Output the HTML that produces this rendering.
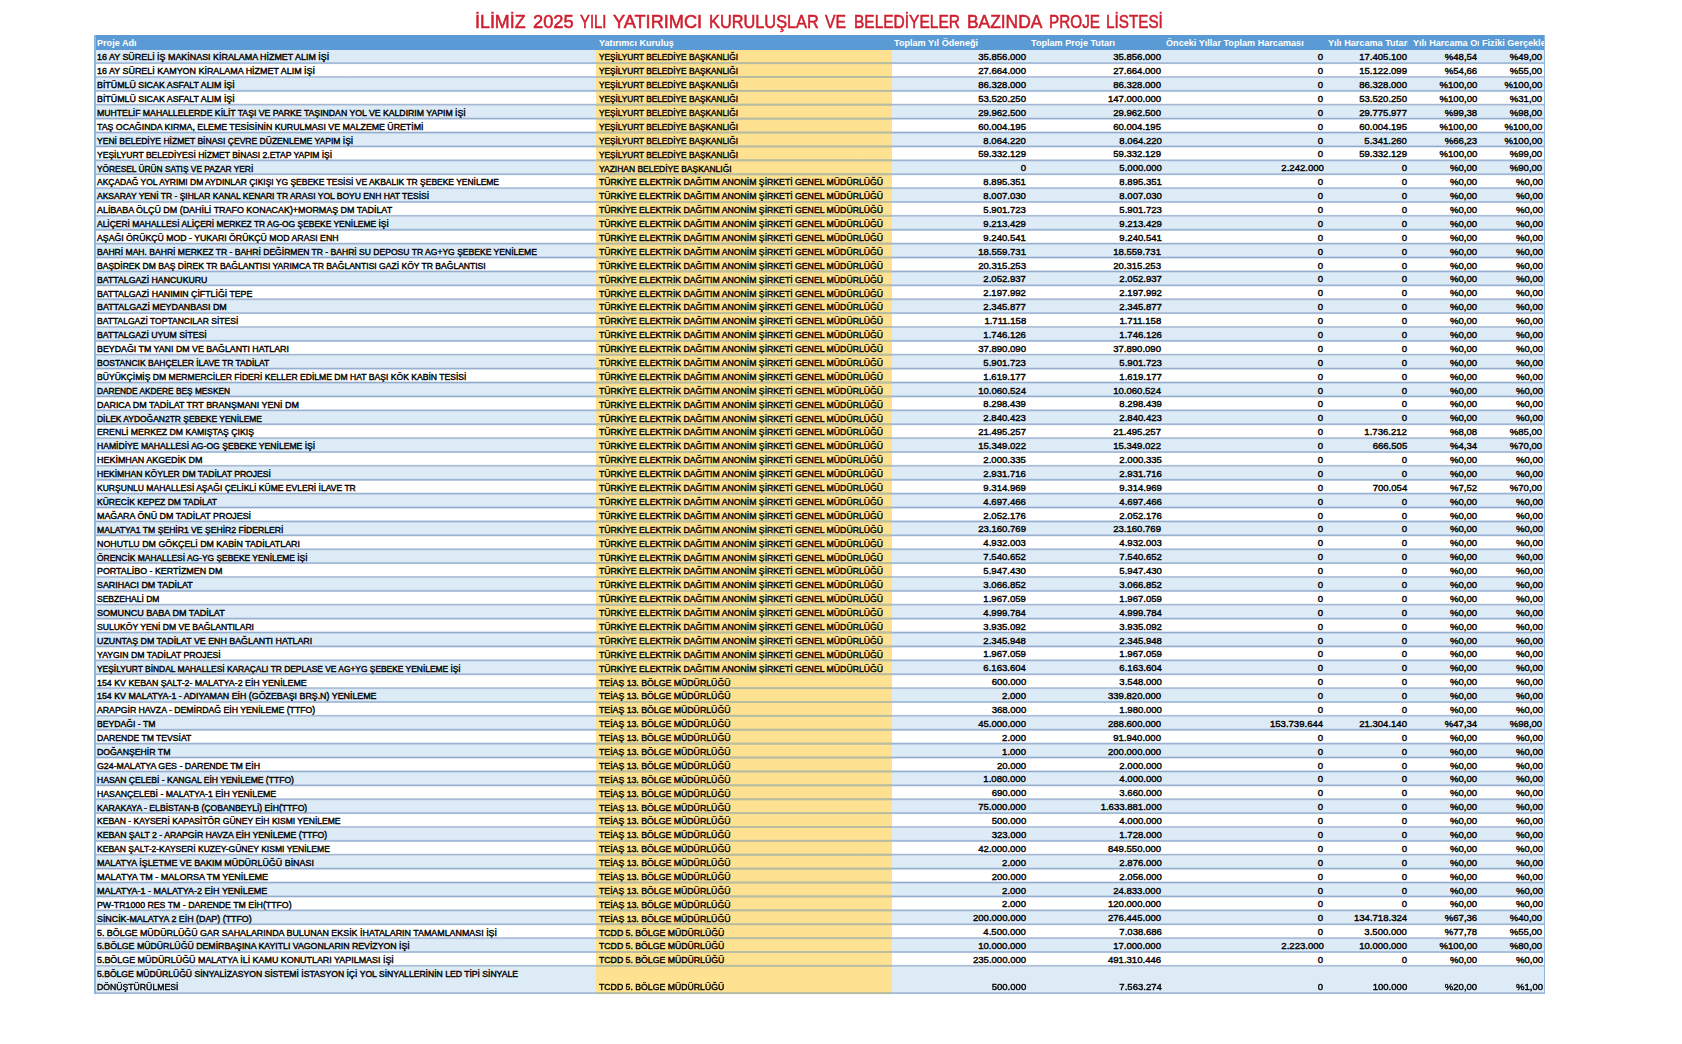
<!DOCTYPE html>
<html lang="tr"><head><meta charset="utf-8"><title>İlimiz 2025 Yılı Yatırımcı Kuruluşlar ve Belediyeler Bazında Proje Listesi</title>
<style>
html,body{margin:0;padding:0;background:#fff;}
body{width:1682px;height:1044px;position:relative;overflow:hidden;font-family:"Liberation Sans",sans-serif;color:#000;}
#ttl{position:absolute;left:0;top:11.1px;width:1682px;height:22px;font-size:18.4px;line-height:22px;color:#cf1f2e;white-space:nowrap;-webkit-text-stroke:0.55px #cf1f2e;filter:blur(0.6px);}
#ttl span{position:absolute;top:0;transform-origin:0 0;}
#tb{position:absolute;left:94.0px;top:34.8px;width:1451.0px;height:959.1px;background:#fff;filter:blur(0.6px);}
.hd{position:absolute;left:0;top:0;width:100%;height:15.200000000000003px;background:#5b9bd5;}
.hd div{position:absolute;top:0;height:100%;overflow:hidden;}
.hd span{position:absolute;left:0;top:1.6px;line-height:15.200000000000003px;font-size:9.2px;font-weight:bold;color:#fff;white-space:nowrap;transform-origin:0 50%;transform:scaleX(0.99);}
.r{position:absolute;left:0;width:100%;height:13.889px;font-size:8.9px;line-height:15.8px;font-weight:normal;-webkit-text-stroke:0.4px #000;}
.r.o{background:#ddebf7;}
.r i{position:absolute;left:501.5px;width:296.5px;top:0;bottom:0;background:#fee291;}
.ln{position:absolute;left:0;top:16.1px;width:100%;height:916.674px;background:repeating-linear-gradient(to bottom,rgba(144,169,204,0) 0,rgba(144,169,204,0) 10.589px,#90a9cc 12.089px,rgba(144,169,204,0) 13.589px,rgba(144,169,204,0) 13.889px);pointer-events:none;}
.ln.y{left:501.5px;width:296.5px;background:repeating-linear-gradient(to bottom,rgba(189,191,149,0) 0,rgba(189,191,149,0) 10.589px,#bdbf95 12.089px,rgba(189,191,149,0) 13.589px,rgba(189,191,149,0) 13.889px);}
.ln.last{top:auto;bottom:-0.8999999999999999px;height:13.889px;}
.r span{position:absolute;top:0.5px;white-space:nowrap;}
.a{left:2.799999999999997px;transform-origin:0 50%;}
.b{left:504.9px;transform-origin:0 50%;}
.r span.n{font-size:9.2px;top:0.2px;}
.r.l span.n{top:13.288999999999998px;}
.n{transform-origin:100% 50%;transform:scaleX(1.04);text-align:right;}
.r.l{height:27.226px;}
.r.l span{top:13.588999999999999px;}
.r.l span.a1{top:0.0px;}
.edge{position:absolute;left:0;top:0;bottom:0;width:1.5px;background:#8fb4de;}
.edge.rt{left:auto;right:0;width:1px;}
</style></head><body>
<div id="ttl"><span style="left:475.4px;transform:scaleX(0.9707)">İLİMİZ</span> <span style="left:532.6px;transform:scaleX(0.9946)">2025</span> <span style="left:579.9px;transform:scaleX(0.8069)">YILI</span> <span style="left:612.9px;transform:scaleX(0.9873)">YATIRIMCI</span> <span style="left:709.0px;transform:scaleX(0.8878)">KURULUŞLAR</span> <span style="left:825.0px;transform:scaleX(0.8555)">VE</span> <span style="left:854.4px;transform:scaleX(0.8423)">BELEDİYELER</span> <span style="left:966.9px;transform:scaleX(0.9446)">BAZINDA</span> <span style="left:1048.8px;transform:scaleX(0.8316)">PROJE</span> <span style="left:1106.4px;transform:scaleX(0.8294)">LİSTESİ</span></div>
<div id="tb">
<div class="hd"><div style="left:2.8px;width:498.2px"><span>Proje Adı</span></div><div style="left:505.4px;width:292.6px"><span>Yatırımcı Kuruluş</span></div><div style="left:800.4px;width:134.6px"><span>Toplam Yıl Ödeneği</span></div><div style="left:937.3px;width:132.7px"><span>Toplam Proje Tutarı</span></div><div style="left:1072.0px;width:160.0px"><span>Önceki Yıllar Toplam Harcaması</span></div><div style="left:1234.3px;width:80.2px"><span>Yılı Harcama Tutarı</span></div><div style="left:1318.5px;width:66.0px"><span>Yılı Harcama Oranı</span></div><div style="left:1387.7px;width:63.3px"><span>Fiziki Gerçekleşme</span></div></div>
<div class="r o" style="top:15.200px"><i></i><span class="a" style="transform:scaleX(1.0038)">16 AY SÜRELİ İŞ MAKİNASI KİRALAMA HİZMET ALIM İŞİ</span><span class="b" style="transform:scaleX(0.9300)">YEŞİLYURT BELEDİYE BAŞKANLIĞI</span><span class="n" style="right:519.2px">35.856.000</span><span class="n" style="right:383.6px">35.856.000</span><span class="n" style="right:221.6px">0</span><span class="n" style="right:138.2px">17.405.100</span><span class="n" style="right:68.2px">%48,54</span><span class="n" style="right:2.4px">%49,00</span></div>
<div class="r" style="top:29.089px"><i></i><span class="a" style="transform:scaleX(1.0068)">16 AY SÜRELİ KAMYON KİRALAMA HİZMET ALIM  İŞİ</span><span class="b" style="transform:scaleX(0.9300)">YEŞİLYURT BELEDİYE BAŞKANLIĞI</span><span class="n" style="right:519.2px">27.664.000</span><span class="n" style="right:383.6px">27.664.000</span><span class="n" style="right:221.6px">0</span><span class="n" style="right:138.2px">15.122.099</span><span class="n" style="right:68.2px">%54,66</span><span class="n" style="right:2.4px">%55,00</span></div>
<div class="r o" style="top:42.978px"><i></i><span class="a" style="transform:scaleX(0.9959)">BİTÜMLÜ SICAK ASFALT ALIM İŞİ</span><span class="b" style="transform:scaleX(0.9300)">YEŞİLYURT BELEDİYE BAŞKANLIĞI</span><span class="n" style="right:519.2px">86.328.000</span><span class="n" style="right:383.6px">86.328.000</span><span class="n" style="right:221.6px">0</span><span class="n" style="right:138.2px">86.328.000</span><span class="n" style="right:68.2px">%100,00</span><span class="n" style="right:2.4px">%100,00</span></div>
<div class="r" style="top:56.867px"><i></i><span class="a" style="transform:scaleX(0.9959)">BİTÜMLÜ SICAK ASFALT ALIM İŞİ</span><span class="b" style="transform:scaleX(0.9300)">YEŞİLYURT BELEDİYE BAŞKANLIĞI</span><span class="n" style="right:519.2px">53.520.250</span><span class="n" style="right:383.6px">147.000.000</span><span class="n" style="right:221.6px">0</span><span class="n" style="right:138.2px">53.520.250</span><span class="n" style="right:68.2px">%100,00</span><span class="n" style="right:2.4px">%31,00</span></div>
<div class="r o" style="top:70.756px"><i></i><span class="a" style="transform:scaleX(0.9793)">MUHTELİF MAHALLELERDE KİLİT TAŞI VE PARKE TAŞINDAN YOL VE KALDIRIM YAPIM İŞİ</span><span class="b" style="transform:scaleX(0.9300)">YEŞİLYURT BELEDİYE BAŞKANLIĞI</span><span class="n" style="right:519.2px">29.962.500</span><span class="n" style="right:383.6px">29.962.500</span><span class="n" style="right:221.6px">0</span><span class="n" style="right:138.2px">29.775.977</span><span class="n" style="right:68.2px">%99,38</span><span class="n" style="right:2.4px">%98,00</span></div>
<div class="r" style="top:84.645px"><i></i><span class="a" style="transform:scaleX(0.9889)">TAŞ OCAĞINDA KIRMA, ELEME TESİSİNİN KURULMASI VE MALZEME ÜRETİMİ</span><span class="b" style="transform:scaleX(0.9300)">YEŞİLYURT BELEDİYE BAŞKANLIĞI</span><span class="n" style="right:519.2px">60.004.195</span><span class="n" style="right:383.6px">60.004.195</span><span class="n" style="right:221.6px">0</span><span class="n" style="right:138.2px">60.004.195</span><span class="n" style="right:68.2px">%100,00</span><span class="n" style="right:2.4px">%100,00</span></div>
<div class="r o" style="top:98.534px"><i></i><span class="a" style="transform:scaleX(0.9620)">YENİ BELEDİYE HİZMET BİNASI ÇEVRE DÜZENLEME YAPIM İŞİ</span><span class="b" style="transform:scaleX(0.9300)">YEŞİLYURT BELEDİYE BAŞKANLIĞI</span><span class="n" style="right:519.2px">8.064.220</span><span class="n" style="right:383.6px">8.064.220</span><span class="n" style="right:221.6px">0</span><span class="n" style="right:138.2px">5.341.260</span><span class="n" style="right:68.2px">%66,23</span><span class="n" style="right:2.4px">%100,00</span></div>
<div class="r" style="top:112.423px"><i></i><span class="a" style="transform:scaleX(0.9627)">YEŞİLYURT BELEDİYESİ HİZMET BİNASI 2.ETAP YAPIM İŞİ</span><span class="b" style="transform:scaleX(0.9300)">YEŞİLYURT BELEDİYE BAŞKANLIĞI</span><span class="n" style="right:519.2px">59.332.129</span><span class="n" style="right:383.6px">59.332.129</span><span class="n" style="right:221.6px">0</span><span class="n" style="right:138.2px">59.332.129</span><span class="n" style="right:68.2px">%100,00</span><span class="n" style="right:2.4px">%99,00</span></div>
<div class="r o" style="top:126.312px"><i></i><span class="a" style="transform:scaleX(0.9417)">YÖRESEL ÜRÜN SATIŞ VE PAZAR YERİ</span><span class="b" style="transform:scaleX(0.9544)">YAZIHAN BELEDİYE BAŞKANLIĞI</span><span class="n" style="right:519.2px">0</span><span class="n" style="right:383.6px">5.000.000</span><span class="n" style="right:221.6px">2.242.000</span><span class="n" style="right:138.2px">0</span><span class="n" style="right:68.2px">%0,00</span><span class="n" style="right:2.4px">%90,00</span></div>
<div class="r" style="top:140.201px"><i></i><span class="a" style="transform:scaleX(0.9544)">AKÇADAĞ YOL AYRIMI DM AYDINLAR ÇIKIŞI YG ŞEBEKE TESİSİ VE AKBALIK TR ŞEBEKE YENİLEME</span><span class="b" style="transform:scaleX(0.9792)">TÜRKİYE ELEKTRİK DAĞITIM ANONİM ŞİRKETİ GENEL MÜDÜRLÜĞÜ</span><span class="n" style="right:519.2px">8.895.351</span><span class="n" style="right:383.6px">8.895.351</span><span class="n" style="right:221.6px">0</span><span class="n" style="right:138.2px">0</span><span class="n" style="right:68.2px">%0,00</span><span class="n" style="right:2.4px">%0,00</span></div>
<div class="r o" style="top:154.090px"><i></i><span class="a" style="transform:scaleX(0.9596)">AKSARAY YENİ TR - ŞIHLAR KANAL KENARI TR ARASI YOL BOYU ENH HAT TESİSİ</span><span class="b" style="transform:scaleX(0.9792)">TÜRKİYE ELEKTRİK DAĞITIM ANONİM ŞİRKETİ GENEL MÜDÜRLÜĞÜ</span><span class="n" style="right:519.2px">8.007.030</span><span class="n" style="right:383.6px">8.007.030</span><span class="n" style="right:221.6px">0</span><span class="n" style="right:138.2px">0</span><span class="n" style="right:68.2px">%0,00</span><span class="n" style="right:2.4px">%0,00</span></div>
<div class="r" style="top:167.979px"><i></i><span class="a" style="transform:scaleX(1.0037)">ALİBABA ÖLÇÜ DM (DAHİLİ TRAFO KONACAK)+MORMAŞ DM TADİLAT</span><span class="b" style="transform:scaleX(0.9792)">TÜRKİYE ELEKTRİK DAĞITIM ANONİM ŞİRKETİ GENEL MÜDÜRLÜĞÜ</span><span class="n" style="right:519.2px">5.901.723</span><span class="n" style="right:383.6px">5.901.723</span><span class="n" style="right:221.6px">0</span><span class="n" style="right:138.2px">0</span><span class="n" style="right:68.2px">%0,00</span><span class="n" style="right:2.4px">%0,00</span></div>
<div class="r o" style="top:181.868px"><i></i><span class="a" style="transform:scaleX(0.9506)">ALİÇERİ MAHALLESİ ALİÇERİ MERKEZ TR AG-OG ŞEBEKE YENİLEME İŞİ</span><span class="b" style="transform:scaleX(0.9792)">TÜRKİYE ELEKTRİK DAĞITIM ANONİM ŞİRKETİ GENEL MÜDÜRLÜĞÜ</span><span class="n" style="right:519.2px">9.213.429</span><span class="n" style="right:383.6px">9.213.429</span><span class="n" style="right:221.6px">0</span><span class="n" style="right:138.2px">0</span><span class="n" style="right:68.2px">%0,00</span><span class="n" style="right:2.4px">%0,00</span></div>
<div class="r" style="top:195.757px"><i></i><span class="a" style="transform:scaleX(0.9821)">AŞAĞI ÖRÜKÇÜ MOD - YUKARI ÖRÜKÇÜ MOD ARASI ENH</span><span class="b" style="transform:scaleX(0.9792)">TÜRKİYE ELEKTRİK DAĞITIM ANONİM ŞİRKETİ GENEL MÜDÜRLÜĞÜ</span><span class="n" style="right:519.2px">9.240.541</span><span class="n" style="right:383.6px">9.240.541</span><span class="n" style="right:221.6px">0</span><span class="n" style="right:138.2px">0</span><span class="n" style="right:68.2px">%0,00</span><span class="n" style="right:2.4px">%0,00</span></div>
<div class="r o" style="top:209.646px"><i></i><span class="a" style="transform:scaleX(0.9641)">BAHRİ MAH. BAHRİ MERKEZ TR - BAHRİ DEĞİRMEN TR - BAHRİ SU DEPOSU TR AG+YG ŞEBEKE YENİLEME</span><span class="b" style="transform:scaleX(0.9792)">TÜRKİYE ELEKTRİK DAĞITIM ANONİM ŞİRKETİ GENEL MÜDÜRLÜĞÜ</span><span class="n" style="right:519.2px">18.559.731</span><span class="n" style="right:383.6px">18.559.731</span><span class="n" style="right:221.6px">0</span><span class="n" style="right:138.2px">0</span><span class="n" style="right:68.2px">%0,00</span><span class="n" style="right:2.4px">%0,00</span></div>
<div class="r" style="top:223.535px"><i></i><span class="a" style="transform:scaleX(0.9635)">BAŞDİREK DM BAŞ DİREK TR BAĞLANTISI YARIMCA TR BAĞLANTISI GAZİ KÖY TR BAĞLANTISI</span><span class="b" style="transform:scaleX(0.9792)">TÜRKİYE ELEKTRİK DAĞITIM ANONİM ŞİRKETİ GENEL MÜDÜRLÜĞÜ</span><span class="n" style="right:519.2px">20.315.253</span><span class="n" style="right:383.6px">20.315.253</span><span class="n" style="right:221.6px">0</span><span class="n" style="right:138.2px">0</span><span class="n" style="right:68.2px">%0,00</span><span class="n" style="right:2.4px">%0,00</span></div>
<div class="r o" style="top:237.424px"><i></i><span class="a" style="transform:scaleX(0.9848)">BATTALGAZİ HANCUKURU</span><span class="b" style="transform:scaleX(0.9792)">TÜRKİYE ELEKTRİK DAĞITIM ANONİM ŞİRKETİ GENEL MÜDÜRLÜĞÜ</span><span class="n" style="right:519.2px">2.052.937</span><span class="n" style="right:383.6px">2.052.937</span><span class="n" style="right:221.6px">0</span><span class="n" style="right:138.2px">0</span><span class="n" style="right:68.2px">%0,00</span><span class="n" style="right:2.4px">%0,00</span></div>
<div class="r" style="top:251.313px"><i></i><span class="a" style="transform:scaleX(0.9872)">BATTALGAZİ HANIMIN ÇİFTLİĞİ TEPE</span><span class="b" style="transform:scaleX(0.9792)">TÜRKİYE ELEKTRİK DAĞITIM ANONİM ŞİRKETİ GENEL MÜDÜRLÜĞÜ</span><span class="n" style="right:519.2px">2.197.992</span><span class="n" style="right:383.6px">2.197.992</span><span class="n" style="right:221.6px">0</span><span class="n" style="right:138.2px">0</span><span class="n" style="right:68.2px">%0,00</span><span class="n" style="right:2.4px">%0,00</span></div>
<div class="r o" style="top:265.202px"><i></i><span class="a" style="transform:scaleX(0.9988)">BATTALGAZİ MEYDANBASI DM</span><span class="b" style="transform:scaleX(0.9792)">TÜRKİYE ELEKTRİK DAĞITIM ANONİM ŞİRKETİ GENEL MÜDÜRLÜĞÜ</span><span class="n" style="right:519.2px">2.345.877</span><span class="n" style="right:383.6px">2.345.877</span><span class="n" style="right:221.6px">0</span><span class="n" style="right:138.2px">0</span><span class="n" style="right:68.2px">%0,00</span><span class="n" style="right:2.4px">%0,00</span></div>
<div class="r" style="top:279.091px"><i></i><span class="a" style="transform:scaleX(0.9604)">BATTALGAZİ TOPTANCILAR SİTESİ</span><span class="b" style="transform:scaleX(0.9792)">TÜRKİYE ELEKTRİK DAĞITIM ANONİM ŞİRKETİ GENEL MÜDÜRLÜĞÜ</span><span class="n" style="right:519.2px">1.711.158</span><span class="n" style="right:383.6px">1.711.158</span><span class="n" style="right:221.6px">0</span><span class="n" style="right:138.2px">0</span><span class="n" style="right:68.2px">%0,00</span><span class="n" style="right:2.4px">%0,00</span></div>
<div class="r o" style="top:292.980px"><i></i><span class="a" style="transform:scaleX(0.9785)">BATTALGAZİ UYUM SİTESİ</span><span class="b" style="transform:scaleX(0.9792)">TÜRKİYE ELEKTRİK DAĞITIM ANONİM ŞİRKETİ GENEL MÜDÜRLÜĞÜ</span><span class="n" style="right:519.2px">1.746.126</span><span class="n" style="right:383.6px">1.746.126</span><span class="n" style="right:221.6px">0</span><span class="n" style="right:138.2px">0</span><span class="n" style="right:68.2px">%0,00</span><span class="n" style="right:2.4px">%0,00</span></div>
<div class="r" style="top:306.869px"><i></i><span class="a" style="transform:scaleX(0.9935)">BEYDAĞI TM YANI DM VE BAĞLANTI HATLARI</span><span class="b" style="transform:scaleX(0.9792)">TÜRKİYE ELEKTRİK DAĞITIM ANONİM ŞİRKETİ GENEL MÜDÜRLÜĞÜ</span><span class="n" style="right:519.2px">37.890.090</span><span class="n" style="right:383.6px">37.890.090</span><span class="n" style="right:221.6px">0</span><span class="n" style="right:138.2px">0</span><span class="n" style="right:68.2px">%0,00</span><span class="n" style="right:2.4px">%0,00</span></div>
<div class="r o" style="top:320.758px"><i></i><span class="a" style="transform:scaleX(0.9598)">BOSTANCIK BAHÇELER İLAVE TR TADİLAT</span><span class="b" style="transform:scaleX(0.9792)">TÜRKİYE ELEKTRİK DAĞITIM ANONİM ŞİRKETİ GENEL MÜDÜRLÜĞÜ</span><span class="n" style="right:519.2px">5.901.723</span><span class="n" style="right:383.6px">5.901.723</span><span class="n" style="right:221.6px">0</span><span class="n" style="right:138.2px">0</span><span class="n" style="right:68.2px">%0,00</span><span class="n" style="right:2.4px">%0,00</span></div>
<div class="r" style="top:334.647px"><i></i><span class="a" style="transform:scaleX(0.9665)">BÜYÜKÇİMİŞ DM MERMERCİLER FİDERİ KELLER EDİLME DM HAT BAŞI KÖK KABİN TESİSİ</span><span class="b" style="transform:scaleX(0.9792)">TÜRKİYE ELEKTRİK DAĞITIM ANONİM ŞİRKETİ GENEL MÜDÜRLÜĞÜ</span><span class="n" style="right:519.2px">1.619.177</span><span class="n" style="right:383.6px">1.619.177</span><span class="n" style="right:221.6px">0</span><span class="n" style="right:138.2px">0</span><span class="n" style="right:68.2px">%0,00</span><span class="n" style="right:2.4px">%0,00</span></div>
<div class="r o" style="top:348.536px"><i></i><span class="a" style="transform:scaleX(0.9363)">DARENDE AKDERE BEŞ MESKEN</span><span class="b" style="transform:scaleX(0.9792)">TÜRKİYE ELEKTRİK DAĞITIM ANONİM ŞİRKETİ GENEL MÜDÜRLÜĞÜ</span><span class="n" style="right:519.2px">10.060.524</span><span class="n" style="right:383.6px">10.060.524</span><span class="n" style="right:221.6px">0</span><span class="n" style="right:138.2px">0</span><span class="n" style="right:68.2px">%0,00</span><span class="n" style="right:2.4px">%0,00</span></div>
<div class="r" style="top:362.425px"><i></i><span class="a" style="transform:scaleX(1.0075)">DARICA DM TADİLAT TRT BRANŞMANI YENİ DM</span><span class="b" style="transform:scaleX(0.9792)">TÜRKİYE ELEKTRİK DAĞITIM ANONİM ŞİRKETİ GENEL MÜDÜRLÜĞÜ</span><span class="n" style="right:519.2px">8.298.439</span><span class="n" style="right:383.6px">8.298.439</span><span class="n" style="right:221.6px">0</span><span class="n" style="right:138.2px">0</span><span class="n" style="right:68.2px">%0,00</span><span class="n" style="right:2.4px">%0,00</span></div>
<div class="r o" style="top:376.314px"><i></i><span class="a" style="transform:scaleX(0.9521)">DİLEK AYDOĞAN2TR ŞEBEKE YENİLEME</span><span class="b" style="transform:scaleX(0.9792)">TÜRKİYE ELEKTRİK DAĞITIM ANONİM ŞİRKETİ GENEL MÜDÜRLÜĞÜ</span><span class="n" style="right:519.2px">2.840.423</span><span class="n" style="right:383.6px">2.840.423</span><span class="n" style="right:221.6px">0</span><span class="n" style="right:138.2px">0</span><span class="n" style="right:68.2px">%0,00</span><span class="n" style="right:2.4px">%0,00</span></div>
<div class="r" style="top:390.203px"><i></i><span class="a" style="transform:scaleX(0.9806)">ERENLİ MERKEZ DM  KAMIŞTAŞ ÇIKIŞ</span><span class="b" style="transform:scaleX(0.9792)">TÜRKİYE ELEKTRİK DAĞITIM ANONİM ŞİRKETİ GENEL MÜDÜRLÜĞÜ</span><span class="n" style="right:519.2px">21.495.257</span><span class="n" style="right:383.6px">21.495.257</span><span class="n" style="right:221.6px">0</span><span class="n" style="right:138.2px">1.736.212</span><span class="n" style="right:68.2px">%8,08</span><span class="n" style="right:2.4px">%85,00</span></div>
<div class="r o" style="top:404.092px"><i></i><span class="a" style="transform:scaleX(0.9688)">HAMİDİYE MAHALLESİ AG-OG ŞEBEKE YENİLEME İŞİ</span><span class="b" style="transform:scaleX(0.9792)">TÜRKİYE ELEKTRİK DAĞITIM ANONİM ŞİRKETİ GENEL MÜDÜRLÜĞÜ</span><span class="n" style="right:519.2px">15.349.022</span><span class="n" style="right:383.6px">15.349.022</span><span class="n" style="right:221.6px">0</span><span class="n" style="right:138.2px">666.505</span><span class="n" style="right:68.2px">%4,34</span><span class="n" style="right:2.4px">%70,00</span></div>
<div class="r" style="top:417.981px"><i></i><span class="a" style="transform:scaleX(1.0082)">HEKİMHAN AKGEDİK DM</span><span class="b" style="transform:scaleX(0.9792)">TÜRKİYE ELEKTRİK DAĞITIM ANONİM ŞİRKETİ GENEL MÜDÜRLÜĞÜ</span><span class="n" style="right:519.2px">2.000.335</span><span class="n" style="right:383.6px">2.000.335</span><span class="n" style="right:221.6px">0</span><span class="n" style="right:138.2px">0</span><span class="n" style="right:68.2px">%0,00</span><span class="n" style="right:2.4px">%0,00</span></div>
<div class="r o" style="top:431.870px"><i></i><span class="a" style="transform:scaleX(0.9702)">HEKİMHAN KÖYLER DM TADİLAT PROJESİ</span><span class="b" style="transform:scaleX(0.9792)">TÜRKİYE ELEKTRİK DAĞITIM ANONİM ŞİRKETİ GENEL MÜDÜRLÜĞÜ</span><span class="n" style="right:519.2px">2.931.716</span><span class="n" style="right:383.6px">2.931.716</span><span class="n" style="right:221.6px">0</span><span class="n" style="right:138.2px">0</span><span class="n" style="right:68.2px">%0,00</span><span class="n" style="right:2.4px">%0,00</span></div>
<div class="r" style="top:445.759px"><i></i><span class="a" style="transform:scaleX(0.9621)">KURŞUNLU MAHALLESİ AŞAĞI ÇELİKLİ KÜME EVLERİ İLAVE TR</span><span class="b" style="transform:scaleX(0.9792)">TÜRKİYE ELEKTRİK DAĞITIM ANONİM ŞİRKETİ GENEL MÜDÜRLÜĞÜ</span><span class="n" style="right:519.2px">9.314.969</span><span class="n" style="right:383.6px">9.314.969</span><span class="n" style="right:221.6px">0</span><span class="n" style="right:138.2px">700.054</span><span class="n" style="right:68.2px">%7,52</span><span class="n" style="right:2.4px">%70,00</span></div>
<div class="r o" style="top:459.648px"><i></i><span class="a" style="transform:scaleX(0.9618)">KÜRECİK KEPEZ DM TADİLAT</span><span class="b" style="transform:scaleX(0.9792)">TÜRKİYE ELEKTRİK DAĞITIM ANONİM ŞİRKETİ GENEL MÜDÜRLÜĞÜ</span><span class="n" style="right:519.2px">4.697.466</span><span class="n" style="right:383.6px">4.697.466</span><span class="n" style="right:221.6px">0</span><span class="n" style="right:138.2px">0</span><span class="n" style="right:68.2px">%0,00</span><span class="n" style="right:2.4px">%0,00</span></div>
<div class="r" style="top:473.537px"><i></i><span class="a" style="transform:scaleX(0.9988)">MAĞARA ÖNÜ DM TADİLAT PROJESİ</span><span class="b" style="transform:scaleX(0.9792)">TÜRKİYE ELEKTRİK DAĞITIM ANONİM ŞİRKETİ GENEL MÜDÜRLÜĞÜ</span><span class="n" style="right:519.2px">2.052.176</span><span class="n" style="right:383.6px">2.052.176</span><span class="n" style="right:221.6px">0</span><span class="n" style="right:138.2px">0</span><span class="n" style="right:68.2px">%0,00</span><span class="n" style="right:2.4px">%0,00</span></div>
<div class="r o" style="top:487.426px"><i></i><span class="a" style="transform:scaleX(0.9686)">MALATYA1 TM ŞEHİR1 VE ŞEHİR2 FİDERLERİ</span><span class="b" style="transform:scaleX(0.9792)">TÜRKİYE ELEKTRİK DAĞITIM ANONİM ŞİRKETİ GENEL MÜDÜRLÜĞÜ</span><span class="n" style="right:519.2px">23.160.769</span><span class="n" style="right:383.6px">23.160.769</span><span class="n" style="right:221.6px">0</span><span class="n" style="right:138.2px">0</span><span class="n" style="right:68.2px">%0,00</span><span class="n" style="right:2.4px">%0,00</span></div>
<div class="r" style="top:501.315px"><i></i><span class="a" style="transform:scaleX(0.9962)">NOHUTLU DM GÖKÇELİ DM KABİN TADİLATLARI</span><span class="b" style="transform:scaleX(0.9792)">TÜRKİYE ELEKTRİK DAĞITIM ANONİM ŞİRKETİ GENEL MÜDÜRLÜĞÜ</span><span class="n" style="right:519.2px">4.932.003</span><span class="n" style="right:383.6px">4.932.003</span><span class="n" style="right:221.6px">0</span><span class="n" style="right:138.2px">0</span><span class="n" style="right:68.2px">%0,00</span><span class="n" style="right:2.4px">%0,00</span></div>
<div class="r o" style="top:515.204px"><i></i><span class="a" style="transform:scaleX(0.9495)">ÖRENCİK MAHALLESİ AG-YG ŞEBEKE YENİLEME İŞİ</span><span class="b" style="transform:scaleX(0.9792)">TÜRKİYE ELEKTRİK DAĞITIM ANONİM ŞİRKETİ GENEL MÜDÜRLÜĞÜ</span><span class="n" style="right:519.2px">7.540.652</span><span class="n" style="right:383.6px">7.540.652</span><span class="n" style="right:221.6px">0</span><span class="n" style="right:138.2px">0</span><span class="n" style="right:68.2px">%0,00</span><span class="n" style="right:2.4px">%0,00</span></div>
<div class="r" style="top:529.093px"><i></i><span class="a" style="transform:scaleX(1.0012)">PORTALİBO - KERTİZMEN DM</span><span class="b" style="transform:scaleX(0.9792)">TÜRKİYE ELEKTRİK DAĞITIM ANONİM ŞİRKETİ GENEL MÜDÜRLÜĞÜ</span><span class="n" style="right:519.2px">5.947.430</span><span class="n" style="right:383.6px">5.947.430</span><span class="n" style="right:221.6px">0</span><span class="n" style="right:138.2px">0</span><span class="n" style="right:68.2px">%0,00</span><span class="n" style="right:2.4px">%0,00</span></div>
<div class="r o" style="top:542.982px"><i></i><span class="a" style="transform:scaleX(1.0003)">SARIHACI DM TADİLAT</span><span class="b" style="transform:scaleX(0.9792)">TÜRKİYE ELEKTRİK DAĞITIM ANONİM ŞİRKETİ GENEL MÜDÜRLÜĞÜ</span><span class="n" style="right:519.2px">3.066.852</span><span class="n" style="right:383.6px">3.066.852</span><span class="n" style="right:221.6px">0</span><span class="n" style="right:138.2px">0</span><span class="n" style="right:68.2px">%0,00</span><span class="n" style="right:2.4px">%0,00</span></div>
<div class="r" style="top:556.871px"><i></i><span class="a" style="transform:scaleX(0.9584)">SEBZEHALİ DM</span><span class="b" style="transform:scaleX(0.9792)">TÜRKİYE ELEKTRİK DAĞITIM ANONİM ŞİRKETİ GENEL MÜDÜRLÜĞÜ</span><span class="n" style="right:519.2px">1.967.059</span><span class="n" style="right:383.6px">1.967.059</span><span class="n" style="right:221.6px">0</span><span class="n" style="right:138.2px">0</span><span class="n" style="right:68.2px">%0,00</span><span class="n" style="right:2.4px">%0,00</span></div>
<div class="r o" style="top:570.760px"><i></i><span class="a" style="transform:scaleX(1.0194)">SOMUNCU BABA DM TADİLAT</span><span class="b" style="transform:scaleX(0.9792)">TÜRKİYE ELEKTRİK DAĞITIM ANONİM ŞİRKETİ GENEL MÜDÜRLÜĞÜ</span><span class="n" style="right:519.2px">4.999.784</span><span class="n" style="right:383.6px">4.999.784</span><span class="n" style="right:221.6px">0</span><span class="n" style="right:138.2px">0</span><span class="n" style="right:68.2px">%0,00</span><span class="n" style="right:2.4px">%0,00</span></div>
<div class="r" style="top:584.649px"><i></i><span class="a" style="transform:scaleX(0.9694)">SULUKÖY YENİ DM VE BAĞLANTILARI</span><span class="b" style="transform:scaleX(0.9792)">TÜRKİYE ELEKTRİK DAĞITIM ANONİM ŞİRKETİ GENEL MÜDÜRLÜĞÜ</span><span class="n" style="right:519.2px">3.935.092</span><span class="n" style="right:383.6px">3.935.092</span><span class="n" style="right:221.6px">0</span><span class="n" style="right:138.2px">0</span><span class="n" style="right:68.2px">%0,00</span><span class="n" style="right:2.4px">%0,00</span></div>
<div class="r o" style="top:598.538px"><i></i><span class="a" style="transform:scaleX(0.9963)">UZUNTAŞ DM TADİLAT VE ENH BAĞLANTI HATLARI</span><span class="b" style="transform:scaleX(0.9792)">TÜRKİYE ELEKTRİK DAĞITIM ANONİM ŞİRKETİ GENEL MÜDÜRLÜĞÜ</span><span class="n" style="right:519.2px">2.345.948</span><span class="n" style="right:383.6px">2.345.948</span><span class="n" style="right:221.6px">0</span><span class="n" style="right:138.2px">0</span><span class="n" style="right:68.2px">%0,00</span><span class="n" style="right:2.4px">%0,00</span></div>
<div class="r" style="top:612.427px"><i></i><span class="a" style="transform:scaleX(0.9798)">YAYGIN DM TADİLAT PROJESİ</span><span class="b" style="transform:scaleX(0.9792)">TÜRKİYE ELEKTRİK DAĞITIM ANONİM ŞİRKETİ GENEL MÜDÜRLÜĞÜ</span><span class="n" style="right:519.2px">1.967.059</span><span class="n" style="right:383.6px">1.967.059</span><span class="n" style="right:221.6px">0</span><span class="n" style="right:138.2px">0</span><span class="n" style="right:68.2px">%0,00</span><span class="n" style="right:2.4px">%0,00</span></div>
<div class="r o" style="top:626.316px"><i></i><span class="a" style="transform:scaleX(0.9463)">YEŞİLYURT BİNDAL MAHALLESİ KARAÇALI TR DEPLASE VE AG+YG ŞEBEKE YENİLEME İŞİ</span><span class="b" style="transform:scaleX(0.9792)">TÜRKİYE ELEKTRİK DAĞITIM ANONİM ŞİRKETİ GENEL MÜDÜRLÜĞÜ</span><span class="n" style="right:519.2px">6.163.604</span><span class="n" style="right:383.6px">6.163.604</span><span class="n" style="right:221.6px">0</span><span class="n" style="right:138.2px">0</span><span class="n" style="right:68.2px">%0,00</span><span class="n" style="right:2.4px">%0,00</span></div>
<div class="r" style="top:640.205px"><i></i><span class="a" style="transform:scaleX(0.9937)">154 KV KEBAN ŞALT-2- MALATYA-2 EİH YENİLEME</span><span class="b" style="transform:scaleX(0.9839)">TEİAŞ 13. BÖLGE MÜDÜRLÜĞÜ</span><span class="n" style="right:519.2px">600.000</span><span class="n" style="right:383.6px">3.548.000</span><span class="n" style="right:221.6px">0</span><span class="n" style="right:138.2px">0</span><span class="n" style="right:68.2px">%0,00</span><span class="n" style="right:2.4px">%0,00</span></div>
<div class="r o" style="top:654.094px"><i></i><span class="a" style="transform:scaleX(0.9965)">154 KV MALATYA-1 - ADIYAMAN EİH (GÖZEBAŞI BRŞ.N) YENİLEME</span><span class="b" style="transform:scaleX(0.9839)">TEİAŞ 13. BÖLGE MÜDÜRLÜĞÜ</span><span class="n" style="right:519.2px">2.000</span><span class="n" style="right:383.6px">339.820.000</span><span class="n" style="right:221.6px">0</span><span class="n" style="right:138.2px">0</span><span class="n" style="right:68.2px">%0,00</span><span class="n" style="right:2.4px">%0,00</span></div>
<div class="r" style="top:667.983px"><i></i><span class="a" style="transform:scaleX(0.9804)">ARAPGİR HAVZA - DEMİRDAĞ EİH YENİLEME (TTFO)</span><span class="b" style="transform:scaleX(0.9839)">TEİAŞ 13. BÖLGE MÜDÜRLÜĞÜ</span><span class="n" style="right:519.2px">368.000</span><span class="n" style="right:383.6px">1.980.000</span><span class="n" style="right:221.6px">0</span><span class="n" style="right:138.2px">0</span><span class="n" style="right:68.2px">%0,00</span><span class="n" style="right:2.4px">%0,00</span></div>
<div class="r o" style="top:681.872px"><i></i><span class="a" style="transform:scaleX(0.9733)">BEYDAĞI - TM</span><span class="b" style="transform:scaleX(0.9839)">TEİAŞ 13. BÖLGE MÜDÜRLÜĞÜ</span><span class="n" style="right:519.2px">45.000.000</span><span class="n" style="right:383.6px">288.600.000</span><span class="n" style="right:221.6px">153.739.644</span><span class="n" style="right:138.2px">21.304.140</span><span class="n" style="right:68.2px">%47,34</span><span class="n" style="right:2.4px">%98,00</span></div>
<div class="r" style="top:695.761px"><i></i><span class="a" style="transform:scaleX(0.9716)">DARENDE TM TEVSİAT</span><span class="b" style="transform:scaleX(0.9839)">TEİAŞ 13. BÖLGE MÜDÜRLÜĞÜ</span><span class="n" style="right:519.2px">2.000</span><span class="n" style="right:383.6px">91.940.000</span><span class="n" style="right:221.6px">0</span><span class="n" style="right:138.2px">0</span><span class="n" style="right:68.2px">%0,00</span><span class="n" style="right:2.4px">%0,00</span></div>
<div class="r o" style="top:709.650px"><i></i><span class="a" style="transform:scaleX(0.9813)">DOĞANŞEHİR TM</span><span class="b" style="transform:scaleX(0.9839)">TEİAŞ 13. BÖLGE MÜDÜRLÜĞÜ</span><span class="n" style="right:519.2px">1.000</span><span class="n" style="right:383.6px">200.000.000</span><span class="n" style="right:221.6px">0</span><span class="n" style="right:138.2px">0</span><span class="n" style="right:68.2px">%0,00</span><span class="n" style="right:2.4px">%0,00</span></div>
<div class="r" style="top:723.539px"><i></i><span class="a" style="transform:scaleX(0.9925)">G24-MALATYA GES - DARENDE TM EİH</span><span class="b" style="transform:scaleX(0.9839)">TEİAŞ 13. BÖLGE MÜDÜRLÜĞÜ</span><span class="n" style="right:519.2px">20.000</span><span class="n" style="right:383.6px">2.000.000</span><span class="n" style="right:221.6px">0</span><span class="n" style="right:138.2px">0</span><span class="n" style="right:68.2px">%0,00</span><span class="n" style="right:2.4px">%0,00</span></div>
<div class="r o" style="top:737.428px"><i></i><span class="a" style="transform:scaleX(0.9644)">HASAN ÇELEBİ - KANGAL EİH YENİLEME (TTFO)</span><span class="b" style="transform:scaleX(0.9839)">TEİAŞ 13. BÖLGE MÜDÜRLÜĞÜ</span><span class="n" style="right:519.2px">1.080.000</span><span class="n" style="right:383.6px">4.000.000</span><span class="n" style="right:221.6px">0</span><span class="n" style="right:138.2px">0</span><span class="n" style="right:68.2px">%0,00</span><span class="n" style="right:2.4px">%0,00</span></div>
<div class="r" style="top:751.317px"><i></i><span class="a" style="transform:scaleX(0.9809)">HASANÇELEBİ - MALATYA-1 EİH YENİLEME</span><span class="b" style="transform:scaleX(0.9839)">TEİAŞ 13. BÖLGE MÜDÜRLÜĞÜ</span><span class="n" style="right:519.2px">690.000</span><span class="n" style="right:383.6px">3.660.000</span><span class="n" style="right:221.6px">0</span><span class="n" style="right:138.2px">0</span><span class="n" style="right:68.2px">%0,00</span><span class="n" style="right:2.4px">%0,00</span></div>
<div class="r o" style="top:765.206px"><i></i><span class="a" style="transform:scaleX(0.9710)">KARAKAYA - ELBİSTAN-B (ÇOBANBEYLİ) EİH(TTFO)</span><span class="b" style="transform:scaleX(0.9839)">TEİAŞ 13. BÖLGE MÜDÜRLÜĞÜ</span><span class="n" style="right:519.2px">75.000.000</span><span class="n" style="right:383.6px">1.633.881.000</span><span class="n" style="right:221.6px">0</span><span class="n" style="right:138.2px">0</span><span class="n" style="right:68.2px">%0,00</span><span class="n" style="right:2.4px">%0,00</span></div>
<div class="r" style="top:779.095px"><i></i><span class="a" style="transform:scaleX(0.9611)">KEBAN - KAYSERİ KAPASİTÖR GÜNEY EİH KISMI YENİLEME</span><span class="b" style="transform:scaleX(0.9839)">TEİAŞ 13. BÖLGE MÜDÜRLÜĞÜ</span><span class="n" style="right:519.2px">500.000</span><span class="n" style="right:383.6px">4.000.000</span><span class="n" style="right:221.6px">0</span><span class="n" style="right:138.2px">0</span><span class="n" style="right:68.2px">%0,00</span><span class="n" style="right:2.4px">%0,00</span></div>
<div class="r o" style="top:792.984px"><i></i><span class="a" style="transform:scaleX(0.9772)">KEBAN ŞALT 2 - ARAPGİR HAVZA EİH YENİLEME (TTFO)</span><span class="b" style="transform:scaleX(0.9839)">TEİAŞ 13. BÖLGE MÜDÜRLÜĞÜ</span><span class="n" style="right:519.2px">323.000</span><span class="n" style="right:383.6px">1.728.000</span><span class="n" style="right:221.6px">0</span><span class="n" style="right:138.2px">0</span><span class="n" style="right:68.2px">%0,00</span><span class="n" style="right:2.4px">%0,00</span></div>
<div class="r" style="top:806.873px"><i></i><span class="a" style="transform:scaleX(0.9637)">KEBAN ŞALT-2-KAYSERİ KUZEY-GÜNEY KISMI YENİLEME</span><span class="b" style="transform:scaleX(0.9839)">TEİAŞ 13. BÖLGE MÜDÜRLÜĞÜ</span><span class="n" style="right:519.2px">42.000.000</span><span class="n" style="right:383.6px">849.550.000</span><span class="n" style="right:221.6px">0</span><span class="n" style="right:138.2px">0</span><span class="n" style="right:68.2px">%0,00</span><span class="n" style="right:2.4px">%0,00</span></div>
<div class="r o" style="top:820.762px"><i></i><span class="a" style="transform:scaleX(1.0034)">MALATYA İŞLETME VE BAKIM MÜDÜRLÜĞÜ BİNASI</span><span class="b" style="transform:scaleX(0.9839)">TEİAŞ 13. BÖLGE MÜDÜRLÜĞÜ</span><span class="n" style="right:519.2px">2.000</span><span class="n" style="right:383.6px">2.876.000</span><span class="n" style="right:221.6px">0</span><span class="n" style="right:138.2px">0</span><span class="n" style="right:68.2px">%0,00</span><span class="n" style="right:2.4px">%0,00</span></div>
<div class="r" style="top:834.651px"><i></i><span class="a" style="transform:scaleX(1.0188)">MALATYA TM - MALORSA TM YENİLEME</span><span class="b" style="transform:scaleX(0.9839)">TEİAŞ 13. BÖLGE MÜDÜRLÜĞÜ</span><span class="n" style="right:519.2px">200.000</span><span class="n" style="right:383.6px">2.056.000</span><span class="n" style="right:221.6px">0</span><span class="n" style="right:138.2px">0</span><span class="n" style="right:68.2px">%0,00</span><span class="n" style="right:2.4px">%0,00</span></div>
<div class="r o" style="top:848.540px"><i></i><span class="a" style="transform:scaleX(1.0116)">MALATYA-1 - MALATYA-2 EİH YENİLEME</span><span class="b" style="transform:scaleX(0.9839)">TEİAŞ 13. BÖLGE MÜDÜRLÜĞÜ</span><span class="n" style="right:519.2px">2.000</span><span class="n" style="right:383.6px">24.833.000</span><span class="n" style="right:221.6px">0</span><span class="n" style="right:138.2px">0</span><span class="n" style="right:68.2px">%0,00</span><span class="n" style="right:2.4px">%0,00</span></div>
<div class="r" style="top:862.429px"><i></i><span class="a" style="transform:scaleX(0.9866)">PW-TR1000 RES TM - DARENDE TM EİH(TTFO)</span><span class="b" style="transform:scaleX(0.9839)">TEİAŞ 13. BÖLGE MÜDÜRLÜĞÜ</span><span class="n" style="right:519.2px">2.000</span><span class="n" style="right:383.6px">120.000.000</span><span class="n" style="right:221.6px">0</span><span class="n" style="right:138.2px">0</span><span class="n" style="right:68.2px">%0,00</span><span class="n" style="right:2.4px">%0,00</span></div>
<div class="r o" style="top:876.318px"><i></i><span class="a" style="transform:scaleX(0.9981)">SİNCİK-MALATYA 2 EİH (DAP) (TTFO)</span><span class="b" style="transform:scaleX(0.9839)">TEİAŞ 13. BÖLGE MÜDÜRLÜĞÜ</span><span class="n" style="right:519.2px">200.000.000</span><span class="n" style="right:383.6px">276.445.000</span><span class="n" style="right:221.6px">0</span><span class="n" style="right:138.2px">134.718.324</span><span class="n" style="right:68.2px">%67,36</span><span class="n" style="right:2.4px">%40,00</span></div>
<div class="r" style="top:890.207px"><i></i><span class="a" style="transform:scaleX(1.0005)">5. BÖLGE MÜDÜRLÜĞÜ GAR SAHALARINDA BULUNAN EKSİK İHATALARIN TAMAMLANMASI İŞİ</span><span class="b" style="transform:scaleX(0.9811)">TCDD 5. BÖLGE MÜDÜRLÜĞÜ</span><span class="n" style="right:519.2px">4.500.000</span><span class="n" style="right:383.6px">7.038.686</span><span class="n" style="right:221.6px">0</span><span class="n" style="right:138.2px">3.500.000</span><span class="n" style="right:68.2px">%77,78</span><span class="n" style="right:2.4px">%55,00</span></div>
<div class="r o" style="top:904.096px"><i></i><span class="a" style="transform:scaleX(0.9859)">5.BÖLGE MÜDÜRLÜĞÜ DEMİRBAŞINA KAYITLI VAGONLARIN REVİZYON İŞİ</span><span class="b" style="transform:scaleX(0.9811)">TCDD 5. BÖLGE MÜDÜRLÜĞÜ</span><span class="n" style="right:519.2px">10.000.000</span><span class="n" style="right:383.6px">17.000.000</span><span class="n" style="right:221.6px">2.223.000</span><span class="n" style="right:138.2px">10.000.000</span><span class="n" style="right:68.2px">%100,00</span><span class="n" style="right:2.4px">%80,00</span></div>
<div class="r" style="top:917.985px"><i></i><span class="a" style="transform:scaleX(1.0036)">5.BÖLGE MÜDÜRLÜĞÜ MALATYA İLİ KAMU KONUTLARI YAPILMASI İŞİ</span><span class="b" style="transform:scaleX(0.9811)">TCDD 5. BÖLGE MÜDÜRLÜĞÜ</span><span class="n" style="right:519.2px">235.000.000</span><span class="n" style="right:383.6px">491.310.446</span><span class="n" style="right:221.6px">0</span><span class="n" style="right:138.2px">0</span><span class="n" style="right:68.2px">%0,00</span><span class="n" style="right:2.4px">%0,00</span></div>
<div class="r o l" style="top:931.874px"><i></i><span class="a a1" style="transform:scaleX(0.9685)">5.BÖLGE MÜDÜRLÜĞÜ SİNYALİZASYON SİSTEMİ İSTASYON İÇİ YOL SİNYALLERİNİN LED TİPİ SİNYALE</span> <span class="a a2" style="transform:scaleX(0.9767)">DÖNÜŞTÜRÜLMESİ</span><span class="b" style="transform:scaleX(0.9811)">TCDD 5. BÖLGE MÜDÜRLÜĞÜ</span><span class="n" style="right:519.2px">500.000</span><span class="n" style="right:383.6px">7.563.274</span><span class="n" style="right:221.6px">0</span><span class="n" style="right:138.2px">100.000</span><span class="n" style="right:68.2px">%20,00</span><span class="n" style="right:2.4px">%1,00</span></div>
<div class="ln"></div><div class="ln y"></div><div class="ln last"></div><div class="ln y last"></div><div class="edge"></div><div class="edge rt"></div>
</div>
</body></html>
